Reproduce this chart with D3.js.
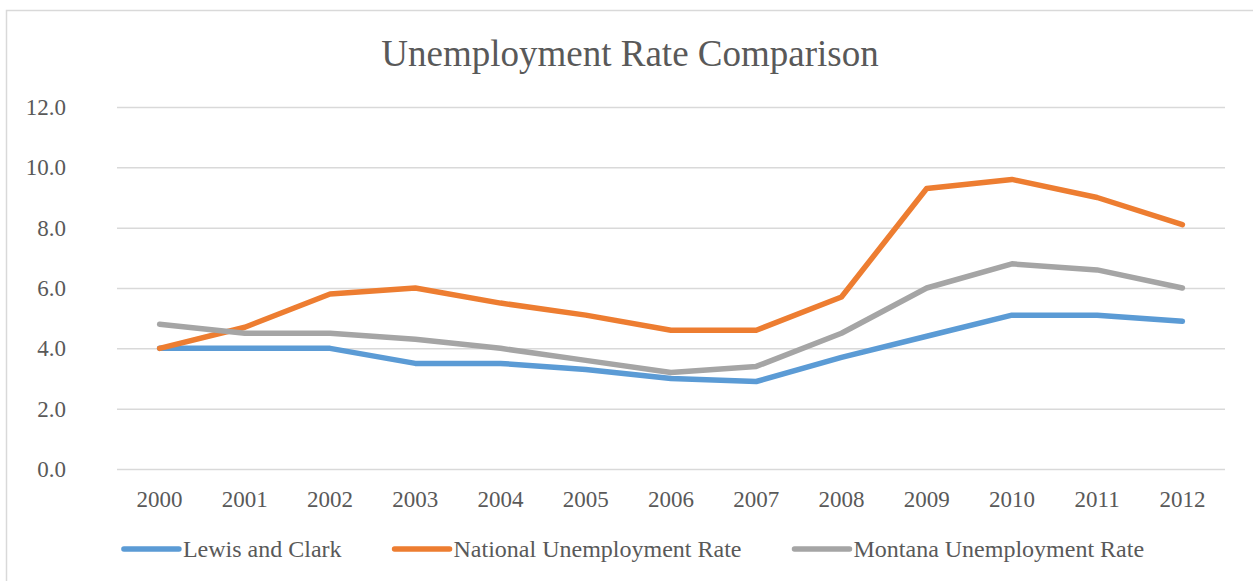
<!DOCTYPE html>
<html>
<head>
  <meta charset="utf-8">
  <title>Unemployment Rate Comparison</title>
  <style>
    body { margin: 0; background: #fff; }
    svg text { font-family: "Liberation Serif", "Times New Roman", serif; fill: #595959; }
  </style>
</head>
<body>
  <div id="chart"></div>

  <script src="https://cdn.jsdelivr.net/npm/d3@7"></script>
  <script>
    // data
    let years = ['2000','2001','2002','2003','2004','2005','2006','2007','2008','2009','2010','2011','2012'];
    let lewisClark = [4.0, 4.0, 4.0, 3.5, 3.5, 3.3, 3.0, 2.9, 3.7, 4.4, 5.1, 5.1, 4.9];
    let national   = [4.0, 4.7, 5.8, 6.0, 5.5, 5.1, 4.6, 4.6, 5.7, 9.3, 9.6, 9.0, 8.1];
    let montana    = [4.8, 4.5, 4.5, 4.3, 4.0, 3.6, 3.2, 3.4, 4.5, 6.0, 6.8, 6.6, 6.0];
    let seriesNames = ['Lewis and Clark', 'National Unemployment Rate', 'Montana Unemployment Rate'];
    let seriesColors = ['#5b9bd5', '#ed7d31', '#a5a5a5'];
    let yTicks = [0, 2, 4, 6, 8, 10, 12];

    let series = [lewisClark, national, montana].map(function (vals, i) {
      return { name: seriesNames[i], color: seriesColors[i], values: vals };
    });

    function translate(x, y) {
      return 'translate(' + x + ',' + y + ')';
    }

    let svgWidth = 1253;
    let svgHeight = 581;
    let margin = {top: 107, right: 28, bottom: 112, left: 117};
    let width = svgWidth - margin.left - margin.right;
    let height = svgHeight - margin.top - margin.bottom;

    let svg = d3.select('#chart')
      .append('svg')
        .attr('width', svgWidth)
        .attr('height', svgHeight);

    // chart frame (runs off the right and bottom edge like the picture)
    svg.append('rect')
      .attr('x', 6.5).attr('y', 10.5)
      .attr('width', 1300).attr('height', 700)
      .attr('fill', 'none')
      .attr('stroke', '#d9d9d9')
      .attr('stroke-width', 1.5);

    svg.append('text')
      .attr('x', 630).attr('y', 66)
      .attr('text-anchor', 'middle')
      .style('font-size', '37px')
      .text('Unemployment Rate Comparison');

    let g = svg.append('g').attr('transform', translate(margin.left, margin.top));

    let x = d3.scaleBand().domain(years).range([0, width]).padding(0);
    let y = d3.scaleLinear().domain([0, 12]).range([height, 0]);

    // y axis + gridlines
    let yAxis = g.append('g')
      .call(d3.axisLeft(y)
        .tickValues(yTicks)
        .tickFormat(d3.format('.1f'))
        .tickSize(-width)
        .tickPadding(51));
    yAxis.select('.domain').remove();
    yAxis.selectAll('line').attr('stroke', '#d9d9d9').attr('stroke-width', 1.5);
    yAxis.selectAll('text').style('font-size', '23px').attr('fill', '#595959');

    // x axis labels
    let xAxis = g.append('g')
      .attr('transform', translate(0, height))
      .call(d3.axisBottom(x).tickSize(0).tickPadding(22));
    xAxis.select('.domain').remove();
    xAxis.selectAll('text').style('font-size', '23px').attr('fill', '#595959');

    let line = d3.line()
      .x(function (d, i) { return x(years[i]) + x.bandwidth() / 2; })
      .y(function (d) { return y(d); });

    g.selectAll('.series')
      .data(series)
      .enter()
        .append('path')
        .attr('class', 'series')
        .attr('d', d => line(d.values))
        .attr('fill', 'none')
        .attr('stroke', d => d.color)
        .attr('stroke-width', 5.5)
        .attr('stroke-linejoin', 'round')
        .attr('stroke-linecap', 'round');

    // legend
    let legendY = 549;
    let lineLen = 55;
    let itemGap = 53;
    let legend = svg.append('g');
    let items = legend.selectAll('g')
      .data(series)
      .enter()
        .append('g');
    items.append('line')
      .attr('x1', 0).attr('x2', lineLen)
      .attr('y1', 0).attr('y2', 0)
      .attr('stroke', d => d.color)
      .attr('stroke-width', 5.5)
      .attr('stroke-linecap', 'round');
    items.append('text')
      .attr('x', lineLen + 4)
      .attr('y', 8)
      .style('font-size', '24px')
      .text(d => d.name);

    let offset = 0;
    items.each(function () {
      let w = lineLen + 4 + d3.select(this).select('text').node().getComputedTextLength();
      d3.select(this).attr('transform', translate(offset, 0));
      offset += w + itemGap;
    });
    let totalW = offset - itemGap;
    legend.attr('transform', translate(634 - totalW / 2, legendY));
  </script>
</body>
</html>
